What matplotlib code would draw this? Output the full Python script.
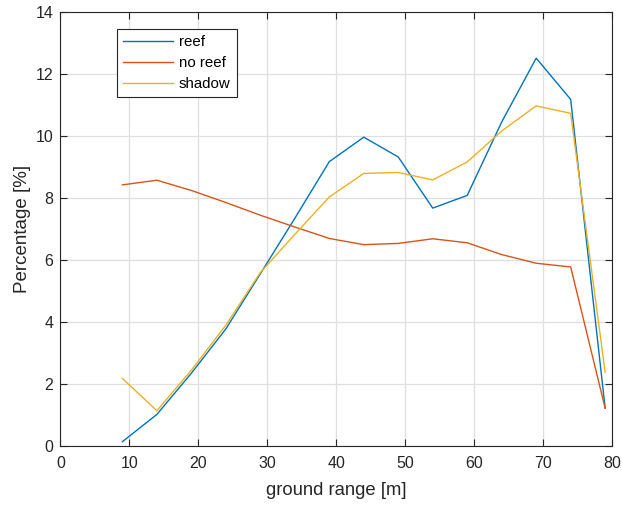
import matplotlib
matplotlib.use("Agg")
import matplotlib.pyplot as plt

plt.rcParams['font.family'] = ['Liberation Sans', 'DejaVu Sans']

ground_range = [9, 14, 19, 24, 29, 34, 39, 44, 49, 54, 59, 64, 69, 74, 79]
reef = [0.14, 1.02, 2.35, 3.78, 5.56, 7.35, 9.18, 9.97, 9.33, 7.68, 8.09, 10.46, 12.52, 11.19, 1.22]
no_reef = [8.43, 8.58, 8.25, 7.86, 7.45, 7.07, 6.70, 6.50, 6.54, 6.69, 6.56, 6.18, 5.90, 5.78, 1.22]
shadow = [2.18, 1.14, 2.45, 3.90, 5.60, 6.83, 8.04, 8.80, 8.83, 8.59, 9.17, 10.17, 10.98, 10.74, 2.38]

series_names = ["reef", "no reef", "shadow"]
colors = ["#0072BD", "#D95319", "#EDB120"]

fig = plt.figure(figsize=(6.22, 5.05), dpi=100)
ax = fig.add_axes([0.097, 0.1168, 0.887, 0.8588])

for vals, name, c in zip([reef, no_reef, shadow], series_names, colors):
    ax.plot(ground_range, vals, color=c, lw=1.0, label=name)

ax.set_xlim(0, 80)
ax.set_ylim(0, 14)
ax.set_xticks(range(0, 81, 10))
ax.set_yticks(range(0, 15, 2))
ax.grid(True, color="#dfdfdf", lw=0.9)
ax.set_axisbelow(True)

for s in ax.spines.values():
    s.set_color("#262626")
    s.set_linewidth(0.8)
ax.tick_params(direction="in", length=5, width=0.8, color="#262626",
               top=True, right=True, labelsize=11.5, labelcolor="#262626")
ax.tick_params(axis="x", pad=7)
ax.tick_params(axis="y", pad=5)

ax.set_xlabel("ground range [m]", fontsize=13.3, color="#262626", labelpad=8)
ax.set_ylabel("Percentage [%]", fontsize=13.5, color="#262626", labelpad=3)

leg = ax.legend(loc="upper left", bbox_to_anchor=(0.103, 0.9615), borderaxespad=0,
                fontsize=10.8, fancybox=False, framealpha=1, edgecolor="#262626",
                handlelength=3.3, handletextpad=0.4, labelspacing=0.45,
                borderpad=0.42)
leg.get_frame().set_linewidth(0.8)

fig.savefig("out.png", dpi=100)
